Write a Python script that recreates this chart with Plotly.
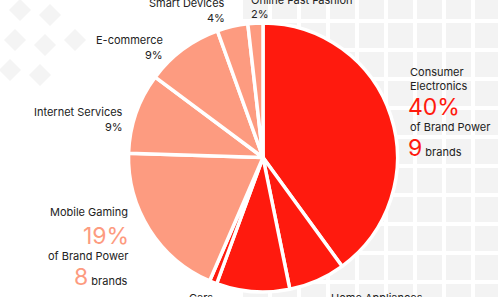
import plotly.graph_objects as go

# ---- data ----
categories = ["Consumer Electronics", "Home Appliances", "Other Retail", "Cars",
              "Mobile Gaming", "Internet Services", "E-commerce", "Smart Devices",
              "Online Fast Fashion"]
shares = [40.0, 6.8, 8.8, 0.9, 19.0, 9.7, 9.3, 3.7, 1.8]
RED = "#FF1A0E"
SALMON = "#FD9B80"
slice_colors = [RED, RED, RED, RED, SALMON, SALMON, SALMON, SALMON, SALMON]

W, H = 498, 297
FONT = "Inter"

fig = go.Figure()
fig.add_trace(go.Pie(
    labels=categories, values=shares, sort=False, direction="clockwise", rotation=0,
    marker=dict(colors=slice_colors, line=dict(color="white", width=3.5)),
    textinfo="none", hoverinfo="label+percent", showlegend=False,
    domain=dict(x=[128.5 / W, 397.5 / W], y=[5 / H, 274 / H]),
))

# ---- decorative background grid (shapes) ----
shapes = []
pitch, size = 29, 25
for i in range(-1, 10):
    for j in range(-1, 12):
        x0 = 272 + i * pitch
        y0 = -6 + j * pitch
        if x0 > W or y0 > H:
            continue
        shapes.append(dict(type="rect", xref="paper", yref="paper", layer="below",
                           x0=x0 / W, x1=(x0 + size) / W,
                           y0=1 - (y0 + size) / H, y1=1 - y0 / H,
                           fillcolor="#F3F3F3", line=dict(width=0)))
# top-left tilted tiles
for (cx, cy) in [(20, 10), (50, 15), (15, 40), (45, 45), (75, 40), (10, 70), (40, 75)]:
    s = 11
    path = (f"M {cx/W} {1-(cy-s)/H} L {(cx+s)/W} {1-cy/H} "
            f"L {cx/W} {1-(cy+s)/H} L {(cx-s)/W} {1-cy/H} Z")
    shapes.append(dict(type="path", xref="paper", yref="paper", layer="below",
                       path=path, fillcolor="#F4F4F4", line=dict(width=0)))

ann = []
def add(text, x, y, anchor, size=11, color="#222222"):
    ann.append(dict(text=text, x=x / W, y=1 - y / H, xref="paper", yref="paper",
                    xanchor=anchor, yanchor="middle", showarrow=False,
                    font=dict(family=FONT, size=size, color=color)))

add("Smart Devices", 227, 3, "right")
add("4%", 227, 18, "right")
add("Online Fast Fashion", 249, 0, "left")
add("2%", 249, 14, "left")
add("E-commerce", 165, 40, "right")
add("9%", 165, 55, "right")
add("Internet Services", 125, 112, "right")
add("9%", 125, 127, "right")

add("Consumer", 408, 72, "left")
add("Electronics", 408, 86, "left")
add("40%", 406, 107, "left", size=23, color=RED)
add("of Brand Power", 408, 127, "left")
add(f"<span style='font-size:23px;color:{RED}'>9</span> brands", 406, 148, "left")

add("Mobile Gaming", 130, 212, "right")
add("19%", 131, 236, "right", size=23, color=SALMON)
add("of Brand Power", 130, 256, "right")
add(f"<span style='font-size:23px;color:{SALMON}'>8</span> brands", 130, 277, "right")

add("Cars", 201, 298, "center")
add("Home Appliances", 329, 298, "left")

fig.update_layout(width=W, height=H, margin=dict(l=0, r=0, t=0, b=0),
                  paper_bgcolor="white", plot_bgcolor="white",
                  shapes=shapes, annotations=ann)
fig.write_html("out.html")
